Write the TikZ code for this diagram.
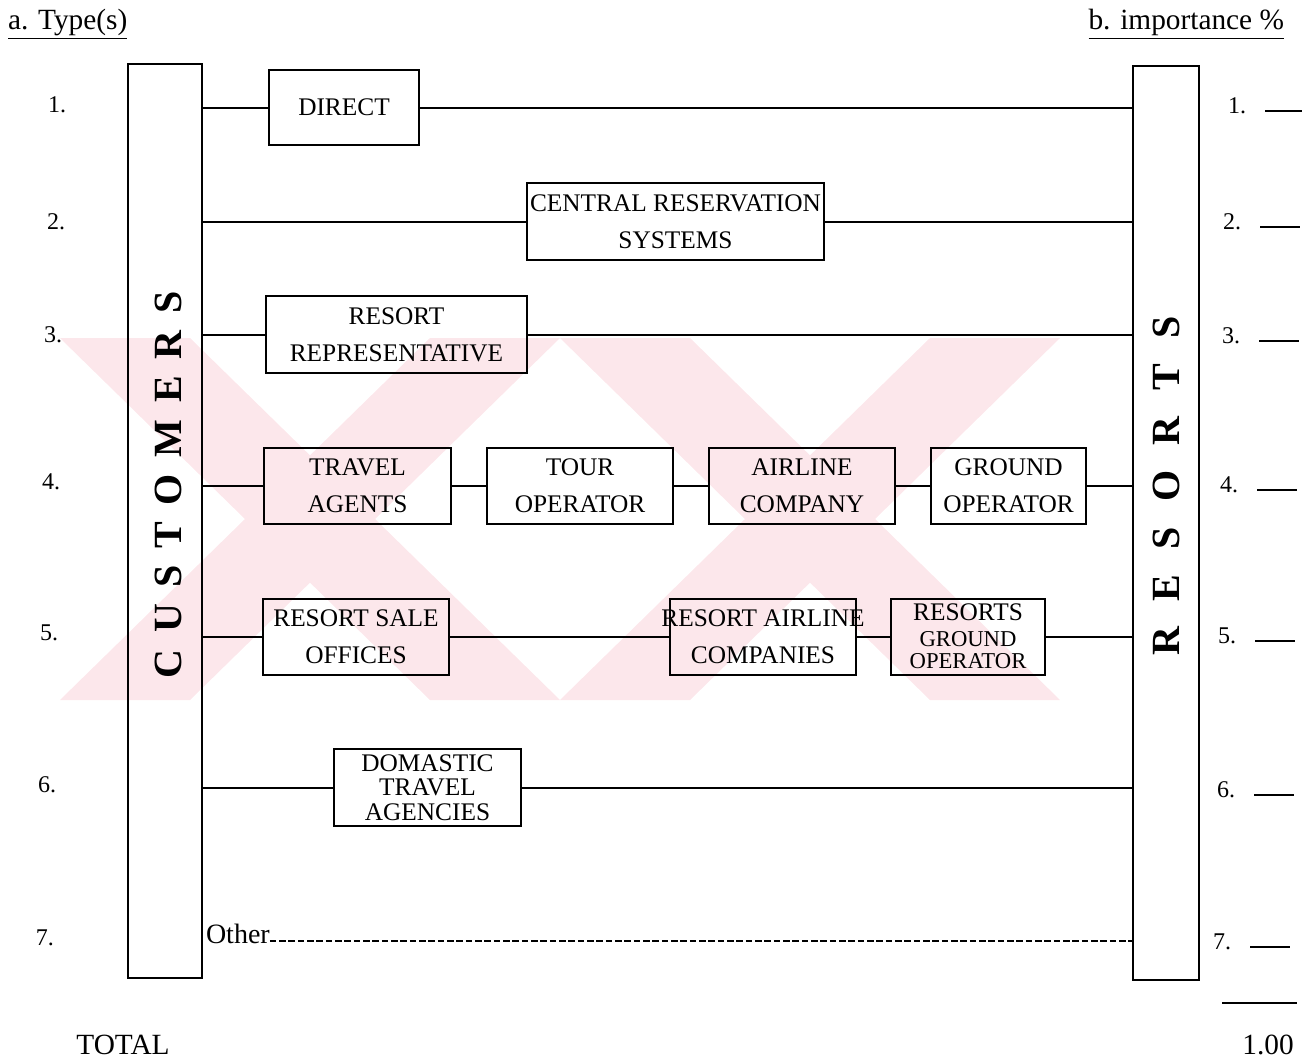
\documentclass[tikz,border=0pt]{standalone}
\usepackage{fontspec}
\setmainfont{Liberation Serif}
\definecolor{wm}{RGB}{252,231,235}
\newcommand\wideline[1]{\makebox[0pt]{#1}}
\tikzset{
  wh/.style n args={2}{minimum width=#1*0.75pt, minimum height=#2*0.75pt},
  ln/.style={line width=1.5pt},
  bar/.style={draw, line width=1.7pt},
  chan/.style={draw, line width=1.5pt, align=center,
    font=\fontsize{19}{28}\selectfont},
  vlabel/.style={rotate=90, font=\fontsize{30}{30}\selectfont\bfseries},
  num/.style={font=\fontsize{18}{18}\selectfont},
  head/.style={font=\fontsize{22}{22}\selectfont},
  blank/.style={line width=1.4pt},
  otherline/.style={line width=1.3pt, dash pattern=on 5pt off 2pt}
}
\begin{document}
\begin{tikzpicture}[x=0.75pt,y=-0.75pt,
  every node/.style={inner sep=0pt, outer sep=0pt}]
\useasboundingbox (0,0) rectangle (1302,1060);

% faint background emblem
\begin{scope}
  \clip (60,338) rectangle (1060,700);
  \fill[wm] (60,338) -- (190,338) -- (560,700) -- (430,700) -- cycle;
  \fill[wm] (430,338) -- (560,338) -- (190,700) -- (60,700) -- cycle;
  \fill[wm] (560,338) -- (690,338) -- (1060,700) -- (930,700) -- cycle;
  \fill[wm] (930,338) -- (1060,338) -- (690,700) -- (560,700) -- cycle;
\end{scope}

% column headings
\node[head, anchor=west] (typeh) at (8,24) {\underline{a. Type(s)}};
\node[head, anchor=east] (imph) at (1284,24) {\underline{b. importance \%}};

% the two end bars
\node[bar, wh={74}{914}] (cust) at (165,521) {};
\node[bar, wh={66}{914}] (res) at (1166,523) {};
\node[vlabel] (custlbl) at (168,485)
  {C\hskip12.5pt U\hskip12.5pt S\hskip12.5pt T\hskip12.5pt O\hskip12.5pt M\hskip12.5pt E\hskip12.5pt R\hskip12.5pt S};
\node[vlabel] (reslbl) at (1166,486)
  {R\hskip19pt E\hskip19pt S\hskip19pt O\hskip19pt R\hskip19pt T\hskip19pt S};

% channel boxes
\node[chan, wh={150}{75}] (direct) at (344,107.5) {DIRECT};
\node[chan, wh={297}{77}] (crs) at (675.5,221.5) {\wideline{CENTRAL RESERVATION}\\SYSTEMS};
\node[chan, wh={261}{77}] (rep) at (396.5,334.5) {RESORT\\REPRESENTATIVE};
\node[chan, wh={187}{76}] (ta) at (357.5,485.5) {TRAVEL\\AGENTS};
\node[chan, wh={186}{76}] (to) at (580,485.5) {TOUR\\OPERATOR};
\node[chan, wh={186}{76}] (ac) at (802,485.5) {AIRLINE\\COMPANY};
\node[chan, wh={155}{76}] (go) at (1008.5,485.5) {GROUND\\OPERATOR};
\node[chan, wh={186}{76}] (rso) at (356,636.5) {RESORT SALE\\OFFICES};
\node[chan, wh={186}{76}] (rac) at (763,636.5) {\wideline{RESORT AIRLINE}\\COMPANIES};
\node[chan, wh={154}{76}, font=\fontsize{17}{16.5}\selectfont] (rgo) at (968,636.5)
  {{\fontsize{19}{16.5}\selectfont RESORTS}\\[3pt]GROUND\\OPERATOR};
\node[chan, wh={187}{77}, font=\fontsize{19}{18.5}\selectfont] (dta) at (427.5,787.5)
  {DOMASTIC\\TRAVEL\\AGENCIES};
\node[font=\fontsize{21}{21}\selectfont, anchor=base west] (other) at (206,943) {Other};

% row 1
\draw[ln] (cust.east |- direct.west) -- (direct.west);
\draw[ln] (direct.east) -- (res.west |- direct.east);
% row 2
\draw[ln] (cust.east |- crs.west) -- (crs.west);
\draw[ln] (crs.east) -- (res.west |- crs.east);
% row 3
\draw[ln] (cust.east |- rep.west) -- (rep.west);
\draw[ln] (rep.east) -- (res.west |- rep.east);
% row 4
\draw[ln] (cust.east |- ta.west) -- (ta.west);
\draw[ln] (ta.east) -- (to.west);
\draw[ln] (to.east) -- (ac.west);
\draw[ln] (ac.east) -- (go.west);
\draw[ln] (go.east) -- (res.west |- go.east);
% row 5
\draw[ln] (cust.east |- rso.west) -- (rso.west);
\draw[ln] (rso.east) -- (rac.west);
\draw[ln] (rac.east) -- (rgo.west);
\draw[ln] (rgo.east) -- (res.west |- rgo.east);
% row 6
\draw[ln] (cust.east |- dta.west) -- (dta.west);
\draw[ln] (dta.east) -- (res.west |- dta.east);
% row 7
\coordinate (oth) at ([yshift=1.5pt]other.base east);
\draw[otherline] (oth) -- (oth -| res.west);

% row numbers, left
\node[num] (l1) at (57,105) {1.};
\node[num] (l2) at (56,222) {2.};
\node[num] (l3) at (53,335) {3.};
\node[num] (l4) at (51,482) {4.};
\node[num] (l5) at (49,633) {5.};
\node[num] (l6) at (47,785) {6.};
\node[num] (l7) at (45,938) {7.};

% row numbers with blanks, right
\foreach \n/\xx/\yy in {1/1237/106, 2/1232/222, 3/1231/336, 4/1229/485,
                        5/1227/636, 6/1226/790, 7/1222/942} {
  \node[num] (r\n) at (\xx,\yy) {\n.};
  \draw[blank] (r\n.base east) ++(19,-3) -- ++(40,0);
}

% total
\coordinate (sumL) at (1222,1003);
\coordinate (sumR) at (1297,1003);
\draw[blank] (sumL) -- (sumR);
\node[head] (total) at (123,1045) {TOTAL};
\node[head] (sum) at (1268,1045) {1.00};
\end{tikzpicture}
\end{document}
